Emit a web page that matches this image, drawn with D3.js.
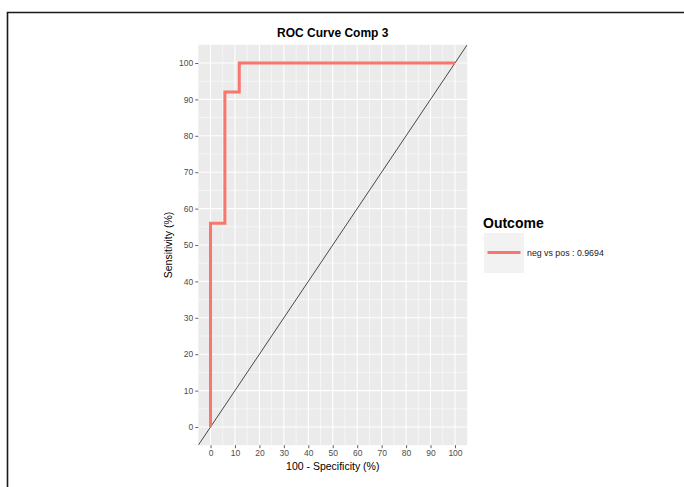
<!DOCTYPE html>
<html>
<head>
<meta charset="utf-8">
<script src="https://cdn.jsdelivr.net/npm/d3@7"></script>
<style>
  html, body { margin: 0; padding: 0; background: #fff; }
  svg { display: block; font-family: "Liberation Sans", Arial, sans-serif; }
</style>
</head>
<body>
<svg id="chart" width="684" height="487"></svg>
<script>
// ---- data ----
const fpr = [0, 0, 5.88, 5.88, 11.76, 11.76, 100];          // 100 - Specificity (%)
const sensitivity = [0, 56, 56, 92, 92, 100, 100];           // Sensitivity (%)
const diagX = [-5, 105];
const diagY = [-5, 105];
const xTicks = [0, 10, 20, 30, 40, 50, 60, 70, 80, 90, 100];
const yTicks = [0, 10, 20, 30, 40, 50, 60, 70, 80, 90, 100];
const minorTicks = [5, 15, 25, 35, 45, 55, 65, 75, 85, 95];
const title = "ROC Curve Comp 3";
const xLabel = "100 - Specificity (%)";
const yLabel = "Sensitivity (%)";
const legendTitle = "Outcome";
const seriesName = "neg vs pos : 0.9694";

const svg = d3.select("#chart");
const W = 684, H = 487;

// outer frame
svg.append("path")
  .attr("d", `M7.5,${H} L7.5,12.5 L${W},12.5`)
  .attr("fill", "none").attr("stroke", "#1a1a1a").attr("stroke-width", 1.6);

const panel = { left: 198.3, right: 467.2, top: 44.8, bottom: 445.2 };
const x = d3.scaleLinear().domain([-5, 105]).range([panel.left, panel.right]);
const y = d3.scaleLinear().domain([-5, 105]).range([panel.bottom, panel.top]);

// panel background
svg.append("rect")
  .attr("x", panel.left).attr("y", panel.top)
  .attr("width", panel.right - panel.left).attr("height", panel.bottom - panel.top)
  .attr("fill", "#EBEBEB");

const grid = svg.append("g");
// minor grid
minorTicks.forEach(v => {
  grid.append("line").attr("x1", x(v)).attr("x2", x(v)).attr("y1", panel.top).attr("y2", panel.bottom)
    .attr("stroke", "#fff").attr("stroke-width", 0.55);
  grid.append("line").attr("y1", y(v)).attr("y2", y(v)).attr("x1", panel.left).attr("x2", panel.right)
    .attr("stroke", "#fff").attr("stroke-width", 0.55);
});
// major grid
xTicks.forEach(v => {
  grid.append("line").attr("x1", x(v)).attr("x2", x(v)).attr("y1", panel.top).attr("y2", panel.bottom)
    .attr("stroke", "#fff").attr("stroke-width", 1.1);
});
yTicks.forEach(v => {
  grid.append("line").attr("y1", y(v)).attr("y2", y(v)).attr("x1", panel.left).attr("x2", panel.right)
    .attr("stroke", "#fff").attr("stroke-width", 1.1);
});

// axes
const xAxis = d3.axisBottom(x).tickValues(xTicks).tickSize(3).tickPadding(2);
const yAxis = d3.axisLeft(y).tickValues(yTicks).tickSize(3).tickPadding(2);
const gx = svg.append("g").attr("transform", `translate(0,${panel.bottom})`).call(xAxis);
const gy = svg.append("g").attr("transform", `translate(${panel.left},0)`).call(yAxis);
[gx, gy].forEach(g => {
  g.select(".domain").remove();
  g.selectAll(".tick line").attr("stroke", "#4d4d4d").attr("stroke-width", 0.9);
  g.selectAll(".tick text").attr("fill", "#4d4d4d").style("font-size", "8.5px")
    .style("font-family", "'Liberation Sans', Arial, sans-serif");
});

// clip
svg.append("clipPath").attr("id", "clip").append("rect")
  .attr("x", panel.left).attr("y", panel.top)
  .attr("width", panel.right - panel.left).attr("height", panel.bottom - panel.top);

// diagonal
const diag = diagX.map((d, i) => [d, diagY[i]]);
svg.append("path").attr("clip-path", "url(#clip)")
  .attr("d", d3.line().x(d => x(d[0])).y(d => y(d[1]))(diag))
  .attr("fill", "none").attr("stroke", "#000").attr("stroke-width", 0.7);

// ROC curve
const pts = fpr.map((d, i) => [d, sensitivity[i]]);
svg.append("path")
  .attr("d", d3.line().x(d => x(d[0])).y(d => y(d[1]))(pts))
  .attr("fill", "none").attr("stroke", "#F8766D").attr("stroke-width", 3)
  .attr("stroke-linejoin", "miter").attr("stroke-linecap", "butt");

// title
svg.append("text").attr("x", (panel.left + panel.right) / 2).attr("y", 36.5)
  .attr("text-anchor", "middle").style("font-size", "12px").style("font-weight", "bold")
  .attr("fill", "#000").text(title);

// axis labels
svg.append("text").attr("x", (panel.left + panel.right) / 2).attr("y", 470)
  .attr("text-anchor", "middle").style("font-size", "10.5px").attr("fill", "#000").text(xLabel);
svg.append("text")
  .attr("transform", `translate(172,${(panel.top + panel.bottom) / 2}) rotate(-90)`)
  .attr("text-anchor", "middle").style("font-size", "10.5px").attr("fill", "#000").text(yLabel);

// legend
const lg = svg.append("g");
lg.append("text").attr("x", 483).attr("y", 227.5)
  .style("font-size", "14px").style("font-weight", "bold").attr("fill", "#000").text(legendTitle);
lg.append("rect").attr("x", 484).attr("y", 233).attr("width", 40).attr("height", 40).attr("fill", "#F2F2F2");
lg.append("line").attr("x1", 487.5).attr("x2", 520.5).attr("y1", 252.5).attr("y2", 252.5)
  .attr("stroke", "#F8766D").attr("stroke-width", 3);
lg.append("text").attr("x", 527).attr("y", 255.5)
  .style("font-size", "8.8px").attr("fill", "#1a1a1a").text(seriesName);
</script>
</body>
</html>
